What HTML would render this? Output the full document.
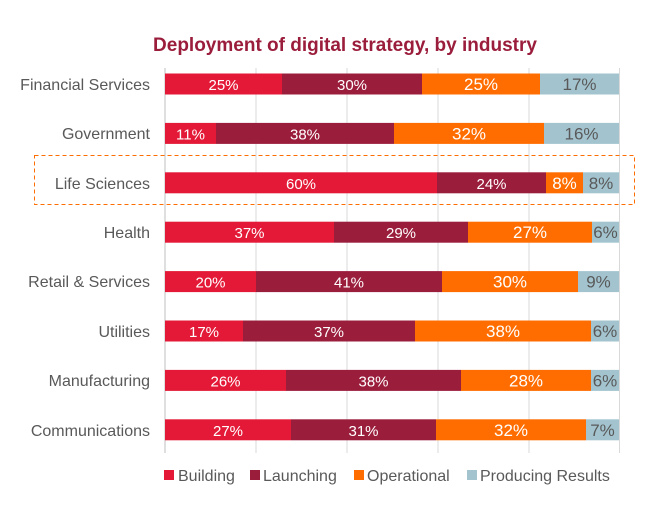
<!DOCTYPE html>
<html><head><style>
body{margin:0;background:#fff;}
svg text{font-family:"Liberation Sans",Arial,sans-serif;}
</style></head><body>
<svg width="656" height="500" viewBox="0 0 656 500" xmlns="http://www.w3.org/2000/svg">
<text x="345" y="51" text-anchor="middle" font-size="19" font-weight="bold" fill="#9b1d3c">Deployment of digital strategy, by industry</text>
<g stroke="#d9d9d9" stroke-width="1">
<line x1="256" y1="68" x2="256" y2="453"/><line x1="347" y1="68" x2="347" y2="453"/>
<line x1="438" y1="68" x2="438" y2="453"/><line x1="529" y1="68" x2="529" y2="453"/>
<line x1="619.5" y1="68" x2="619.5" y2="453"/>
</g>
<line x1="165" y1="68" x2="165" y2="453" stroke="#bfbfbf"/>
<rect x="34.5" y="155.5" width="600" height="49" fill="none" stroke="#ff6d00" stroke-dasharray="4,3"/>

<g text-anchor="middle" font-size="15">
<!-- Financial -->
<rect x="165" y="73.5" width="117" height="21" fill="#e31937"/><rect x="282" y="73.5" width="140" height="21" fill="#9b1d3c"/><rect x="422" y="73.5" width="118" height="21" fill="#ff6d00"/><rect x="540" y="73.5" width="79" height="21" fill="#a3c4cf"/>
<text x="223.5" y="90" fill="#fff">25%</text><text x="352" y="90" fill="#fff">30%</text><text x="481" y="90" fill="#fff" font-size="17">25%</text><text x="579.5" y="90" fill="#595959" font-size="17">17%</text>
<!-- Government -->
<rect x="165" y="122.9" width="51" height="21" fill="#e31937"/><rect x="216" y="122.9" width="178" height="21" fill="#9b1d3c"/><rect x="394" y="122.9" width="150" height="21" fill="#ff6d00"/><rect x="544" y="122.9" width="75" height="21" fill="#a3c4cf"/>
<text x="190.5" y="139.4" fill="#fff">11%</text><text x="305" y="139.4" fill="#fff">38%</text><text x="469" y="139.4" fill="#fff" font-size="17">32%</text><text x="581.5" y="139.4" fill="#595959" font-size="17">16%</text>
<!-- Life -->
<rect x="165" y="172.3" width="272" height="21" fill="#e31937"/><rect x="437" y="172.3" width="109" height="21" fill="#9b1d3c"/><rect x="546" y="172.3" width="37" height="21" fill="#ff6d00"/><rect x="583" y="172.3" width="36" height="21" fill="#a3c4cf"/>
<text x="301" y="188.8" fill="#fff">60%</text><text x="491.5" y="188.8" fill="#fff">24%</text><text x="564.5" y="188.8" fill="#fff" font-size="17">8%</text><text x="601" y="188.8" fill="#595959" font-size="17">8%</text>
<!-- Health -->
<rect x="165" y="221.7" width="169" height="21" fill="#e31937"/><rect x="334" y="221.7" width="134" height="21" fill="#9b1d3c"/><rect x="468" y="221.7" width="124" height="21" fill="#ff6d00"/><rect x="592" y="221.7" width="27" height="21" fill="#a3c4cf"/>
<text x="249.5" y="238.2" fill="#fff">37%</text><text x="401" y="238.2" fill="#fff">29%</text><text x="530" y="238.2" fill="#fff" font-size="17">27%</text><text x="605.5" y="238.2" fill="#595959" font-size="17">6%</text>
<!-- Retail -->
<rect x="165" y="271.1" width="91" height="21" fill="#e31937"/><rect x="256" y="271.1" width="186" height="21" fill="#9b1d3c"/><rect x="442" y="271.1" width="136" height="21" fill="#ff6d00"/><rect x="578" y="271.1" width="41" height="21" fill="#a3c4cf"/>
<text x="210.5" y="287.6" fill="#fff">20%</text><text x="349" y="287.6" fill="#fff">41%</text><text x="510" y="287.6" fill="#fff" font-size="17">30%</text><text x="598.5" y="287.6" fill="#595959" font-size="17">9%</text>
<!-- Utilities -->
<rect x="165" y="320.5" width="78" height="21" fill="#e31937"/><rect x="243" y="320.5" width="172" height="21" fill="#9b1d3c"/><rect x="415" y="320.5" width="176" height="21" fill="#ff6d00"/><rect x="591" y="320.5" width="28" height="21" fill="#a3c4cf"/>
<text x="204" y="337" fill="#fff">17%</text><text x="329" y="337" fill="#fff">37%</text><text x="503" y="337" fill="#fff" font-size="17">38%</text><text x="605" y="337" fill="#595959" font-size="17">6%</text>
<!-- Manufacturing -->
<rect x="165" y="369.9" width="121" height="21" fill="#e31937"/><rect x="286" y="369.9" width="175" height="21" fill="#9b1d3c"/><rect x="461" y="369.9" width="130" height="21" fill="#ff6d00"/><rect x="591" y="369.9" width="28" height="21" fill="#a3c4cf"/>
<text x="225.5" y="386.4" fill="#fff">26%</text><text x="373.5" y="386.4" fill="#fff">38%</text><text x="526" y="386.4" fill="#fff" font-size="17">28%</text><text x="605" y="386.4" fill="#595959" font-size="17">6%</text>
<!-- Communications -->
<rect x="165" y="419.3" width="126" height="21" fill="#e31937"/><rect x="291" y="419.3" width="145" height="21" fill="#9b1d3c"/><rect x="436" y="419.3" width="150" height="21" fill="#ff6d00"/><rect x="586" y="419.3" width="33" height="21" fill="#a3c4cf"/>
<text x="228" y="435.8" fill="#fff">27%</text><text x="363.5" y="435.8" fill="#fff">31%</text><text x="511" y="435.8" fill="#fff" font-size="17">32%</text><text x="602.5" y="435.8" fill="#595959" font-size="17">7%</text>
</g>

<g font-size="16" fill="#595959" text-anchor="end">
<text x="150" y="90">Financial Services</text>
<text x="150" y="139">Government</text>
<text x="150" y="189">Life Sciences</text>
<text x="150" y="238">Health</text>
<text x="150" y="287">Retail &amp; Services</text>
<text x="150" y="337">Utilities</text>
<text x="150" y="386">Manufacturing</text>
<text x="150" y="436">Communications</text>
</g>
<g font-size="16" fill="#595959">
<rect x="164" y="470" width="10" height="10" fill="#e31937"/><text x="178" y="481">Building</text>
<rect x="250" y="470" width="10" height="10" fill="#9b1d3c"/><text x="263" y="481">Launching</text>
<rect x="354" y="470" width="10" height="10" fill="#ff6d00"/><text x="367" y="481">Operational</text>
<rect x="467" y="470" width="10" height="10" fill="#a3c4cf"/><text x="480" y="481">Producing Results</text>
</g>
</svg>
</body></html>
